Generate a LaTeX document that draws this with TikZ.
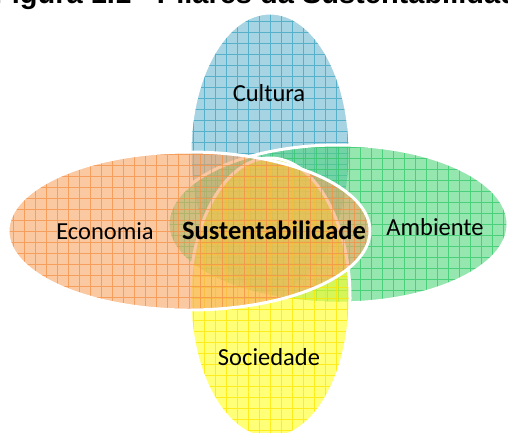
\documentclass[tikz,border=0pt]{standalone}
\usepackage{fontspec}
\setmainfont{Carlito}
\newfontfamily\titlefont{Liberation Sans}
\usepackage{xcolor}
\usetikzlibrary{shapes.geometric, positioning}

\definecolor{cultFill}{RGB}{107,183,207}
\definecolor{cultGrid}{RGB}{60,165,195}
\definecolor{socFill}{RGB}{255,255,30}
\definecolor{socGrid}{RGB}{255,230,0}
\definecolor{ambFill}{RGB}{80,213,122}
\definecolor{ambGrid}{RGB}{50,200,105}
\definecolor{ecoFill}{RGB}{247,163,98}
\definecolor{ecoGrid}{RGB}{245,145,70}

\begin{document}
\begin{tikzpicture}[
  x=1pt, y=-1pt,
  every node/.style={font=\fontsize{24.5}{28}\selectfont},
  pillar/.style 2 args={ellipse, inner sep=0pt, fill=#1, fill opacity=0.6,
    draw=white, line width=3pt,
    path picture={\draw[#2, line width=0.8pt, draw opacity=0.75, step=11pt]
      (path picture bounding box.south west) grid (path picture bounding box.north east);}},
  upright/.style={minimum width=160pt, minimum height=280pt},
  wide/.style={minimum height=158pt},
  lbl/.style={text=black, inner sep=1pt},
]
 \useasboundingbox (0,0) rectangle (508,432);
 \clip (0,0) rectangle (508,432);

 % ---- title (cut at the top) ----
 \node[anchor=base west, inner sep=0pt, font=\titlefont\bfseries\fontsize{29}{32}\selectfont]
   (title) at (-6,3) {Figura 1.1 - Pilares da Sustentabilidade};

 % ---- the four pillars ----
 \node[pillar={cultFill}{cultGrid}, upright] (cultura) at (270,153) {};
 \node[pillar={ambFill}{ambGrid}, wide, minimum width=340pt] (ambiente) at (338,224) {};
 \node[pillar={socFill}{socGrid}, upright] (sociedade) at (270,298) {};
 \node[pillar={ecoFill}{ecoGrid}, wide, minimum width=362pt] (economia) at (189,231) {};

 % ---- labels ----
 \node[lbl] (lcult) at (269,93) {Cultura};
 \node[lbl] (lsoc) at (269,357) {Sociedade};
 \node[lbl] (leco) at (105,231) {Economia};
 \node[lbl] (lamb) at (435,227) {Ambiente};
 \node[lbl, font=\bfseries\fontsize{26.5}{28}\selectfont] (centro) at (274,230) {Sustentabilidade};

\end{tikzpicture}
\end{document}
